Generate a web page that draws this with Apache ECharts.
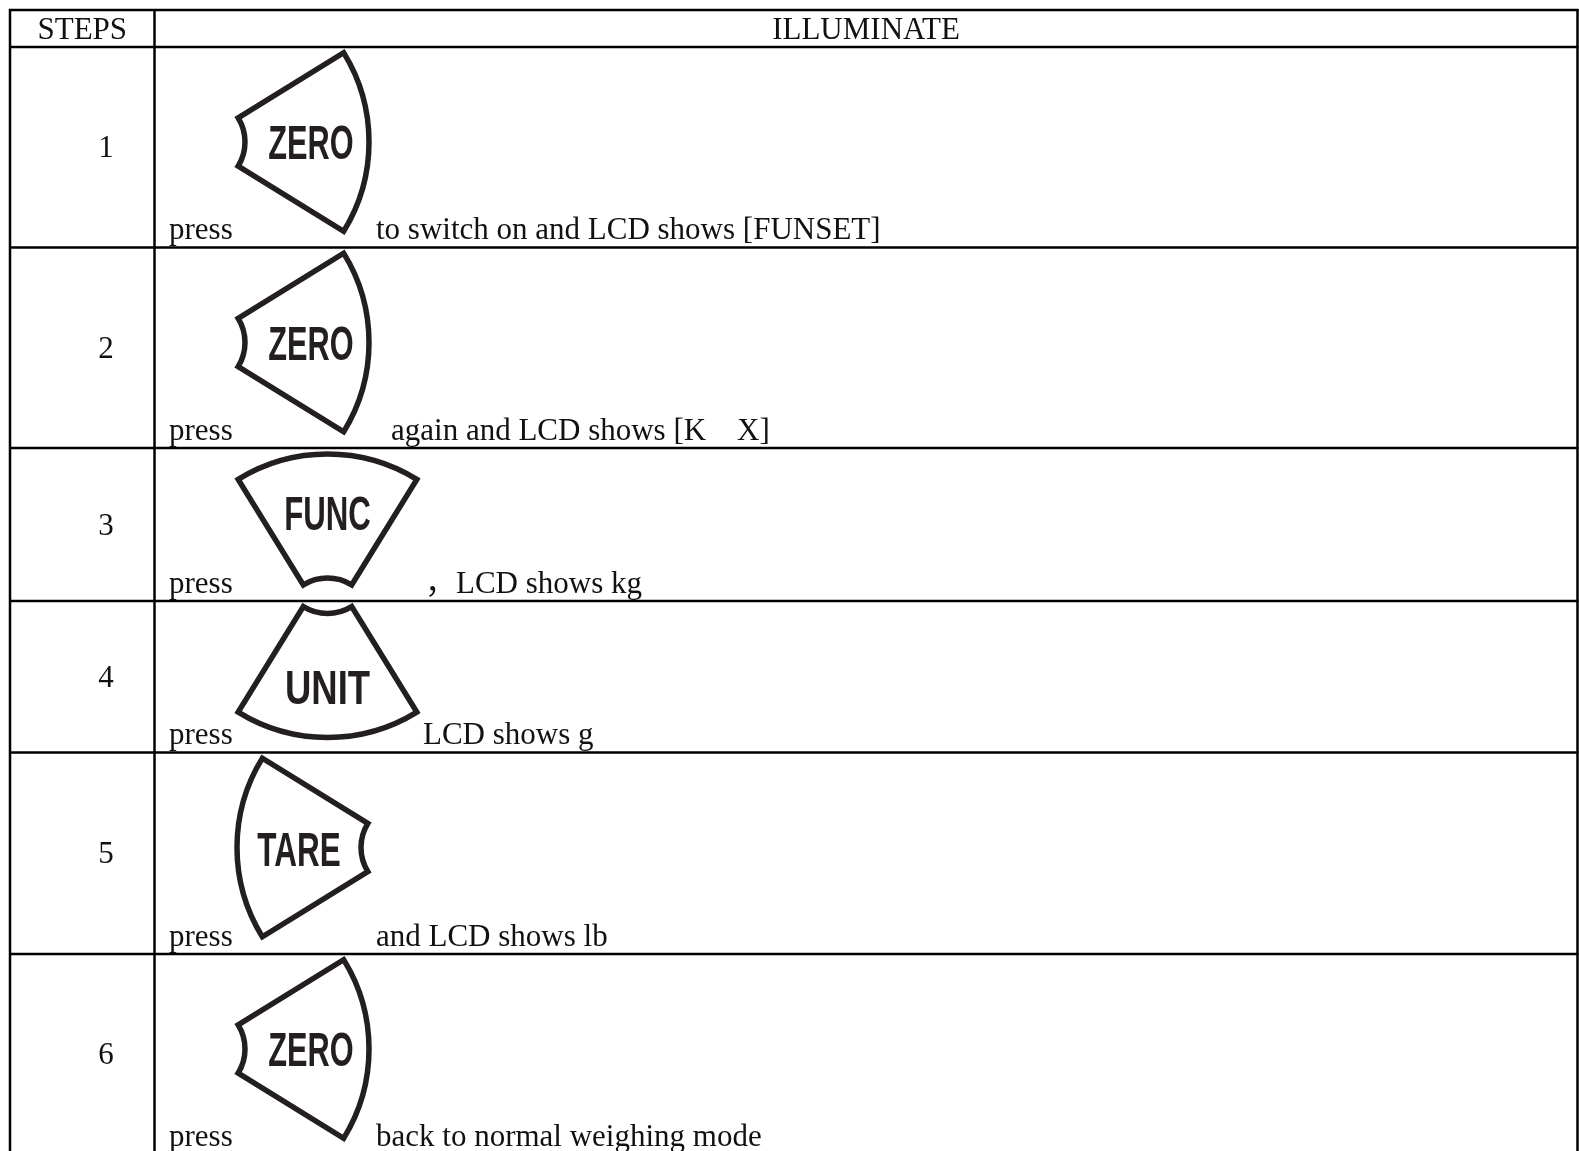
<!DOCTYPE html>
<html>
<head>
<meta charset="utf-8">
<title>Illuminate steps</title>
<style>
  html, body { margin: 0; background: #fff; }
  #chart { width: 1579px; height: 1151px; }
</style>
<script src="https://cdn.jsdelivr.net/npm/echarts@6/dist/echarts.min.js"></script>
</head>
<body>
<div id="chart"></div>
<script>
// --- table content ---
var headers = ['STEPS', 'ILLUMINATE'];
var steps = ['1', '2', '3', '4', '5', '6'];
var keys = ['ZERO', 'ZERO', 'FUNC', 'UNIT', 'TARE', 'ZERO'];
var pressWord = 'press';
var actions = [
  'to switch on and LCD shows [FUNSET]',
  'again and LCD shows [K    X]',
  '，LCD shows kg',
  'LCD shows g',
  'and LCD shows lb',
  'back to normal weighing mode'
];

// --- layout, in page pixels ---
var rowEdges = [10, 47, 247.5, 448, 601, 752.5, 954, 1154];  // the last one is cut by the page
var colEdges = [10, 154.5, 1577.5];
var actionX = [376, 391, 425, 423, 376, 376];

// one wedge per key: where its pivot sits, which way it faces, and how its label is squeezed
var keyShapes = {
  ZERO: {px: 199,   py: 95,    facing: 0,            lx: 112,  ly: 4,    squeeze: 0.64},
  FUNC: {px: 327.5, py: 176,   facing: -Math.PI / 2, lx: 0,    ly: -107, squeeze: 0.65},
  UNIT: {px: 327.5, py: -33.5, facing: Math.PI / 2,  lx: 0,    ly: 123,  squeeze: 0.76},
  TARE: {px: 407,   py: 95,    facing: Math.PI,      lx: -108, ly: 5,    squeeze: 0.655}
};
var wedgeR = 170, wedgeR0 = 46, wedgeHalf = 31.7 * Math.PI / 180;

var serif = '"Liberation Serif", "Noto Sans CJK SC", serif';
var textColor = '#111';
var keyColor = '#231f20';
var fontSize = 31;

var myChart = echarts.init(document.getElementById('chart'), null, {renderer: 'canvas'});

function serifText(api, x, y, text, align) {
  var p = api.coord([x, y]);
  return {
    type: 'text',
    x: p[0],
    y: p[1],
    style: {
      text: text,
      fill: textColor,
      font: fontSize + 'px ' + serif,
      align: align,
      verticalAlign: 'middle'
    }
  };
}

function hLine(api, y) {
  var a = api.coord([colEdges[0] - 1, y]), b = api.coord([colEdges[2] + 1, y]);
  return {type: 'line', shape: {x1: a[0], y1: a[1], x2: b[0], y2: b[1]},
    style: {stroke: '#000', lineWidth: 2.5}};
}

function vLine(api, x) {
  var a = api.coord([x, rowEdges[0] - 1]), b = api.coord([x, 1151]);
  return {type: 'line', shape: {x1: a[0], y1: a[1], x2: b[0], y2: b[1]},
    style: {stroke: '#000', lineWidth: 2.5}};
}

// draw the key wedge and its label for one row
function renderKey(params, api) {
  var i = params.dataIndex;
  var shape = keyShapes[keys[i]];
  var rowTop = rowEdges[i + 1];
  var c = api.coord([shape.px, rowTop + shape.py]);
  var l = api.coord([shape.px + shape.lx, rowTop + shape.py + shape.ly]);
  return {
    type: 'group',
    children: [{
      type: 'sector',
      shape: {
        cx: c[0], cy: c[1], r0: wedgeR0, r: wedgeR,
        startAngle: shape.facing - wedgeHalf,
        endAngle: shape.facing + wedgeHalf,
        clockwise: true
      },
      style: {fill: 'none', stroke: keyColor, lineWidth: 5.5, lineJoin: 'miter'}
    }, {
      type: 'text',
      x: l[0],
      y: l[1],
      scaleX: shape.squeeze,
      style: {
        text: keys[i],
        fill: keyColor,
        font: 'bold 48px "Liberation Sans", sans-serif',
        align: 'center',
        verticalAlign: 'middle'
      }
    }]
  };
}

// draw step number, "press" and the action text for one row
function renderRow(params, api) {
  var i = params.dataIndex;
  var rowTop = rowEdges[i + 1], rowBottom = rowEdges[i + 2];
  var textY = rowBottom - 16.5;
  return {
    type: 'group',
    children: [
      serifText(api, 106, (rowTop + rowBottom) / 2 + 2, steps[i], 'center'),
      serifText(api, 169, textY, pressWord, 'left'),
      serifText(api, actionX[i], textY, actions[i], 'left')
    ]
  };
}

function renderHeader(params, api) {
  var i = params.dataIndex;
  var x = (colEdges[i] + colEdges[i + 1]) / 2;
  return serifText(api, x, (rowEdges[0] + rowEdges[1]) / 2 + 2, headers[i], 'center');
}

myChart.setOption({
  animation: false,
  grid: {left: 0, top: 0, right: 0, bottom: 0},
  xAxis: {type: 'value', min: 0, max: 1579, show: false},
  yAxis: {type: 'value', min: 0, max: 1151, inverse: true, show: false},
  series: [{
    name: 'rows',
    type: 'custom',
    clip: false,
    silent: true,
    data: rowEdges.slice(0, -1),
    renderItem: function (params, api) { return hLine(api, rowEdges[params.dataIndex]); }
  }, {
    name: 'columns',
    type: 'custom',
    clip: false,
    silent: true,
    data: colEdges,
    renderItem: function (params, api) { return vLine(api, colEdges[params.dataIndex]); }
  }, {
    name: 'headers',
    type: 'custom',
    silent: true,
    data: headers,
    renderItem: renderHeader
  }, {
    name: 'keys',
    type: 'custom',
    silent: true,
    data: keys,
    renderItem: renderKey
  }, {
    name: 'steps',
    type: 'custom',
    silent: true,
    data: steps,
    renderItem: renderRow
  }]
});
</script>
</body>
</html>
